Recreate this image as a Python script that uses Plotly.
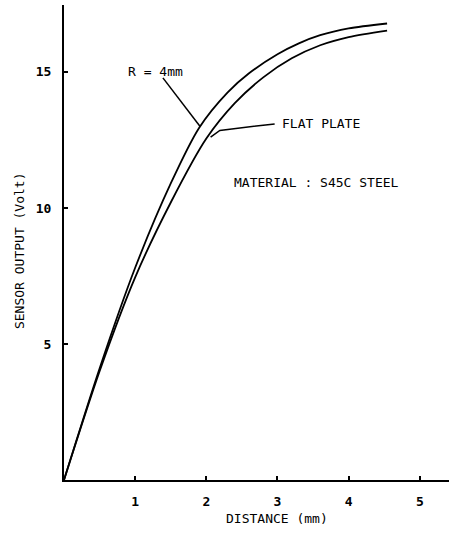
import plotly.graph_objects as go

# Sensor output versus distance for two target shapes (S45C steel)
distance_r4 = [0.0, 0.5, 1.0, 1.5, 1.9, 2.3, 2.6, 3.0, 3.3, 3.6, 4.0, 4.54]
output_r4 = [0.0, 4.1, 7.8, 10.9, 12.95, 14.25, 14.95, 15.65, 16.05, 16.35, 16.6, 16.78]

distance_flat = [0.0, 0.5, 1.0, 1.5, 2.0, 2.4, 2.8, 3.2, 3.6, 4.0, 4.54]
output_flat = [0.0, 4.0, 7.45, 10.2, 12.55, 13.85, 14.8, 15.5, 15.98, 16.28, 16.52]

x_ticks = [1, 2, 3, 4, 5]
y_ticks = [5, 10, 15]

FONT = "DejaVu Sans Mono"

fig = go.Figure()
for xs, ys in [(distance_r4, output_r4), (distance_flat, output_flat)]:
    fig.add_trace(go.Scatter(
        x=xs, y=ys, mode="lines",
        line=dict(color="black", width=1.8, shape="spline", smoothing=0.8),
        showlegend=False, hoverinfo="skip",
    ))

# curve labels with leader lines
fig.add_annotation(x=1.28, y=15.0, text="R = 4mm", showarrow=False,
                   font=dict(family=FONT, size=13, color="black"))
fig.add_shape(type="line", x0=1.39, y0=14.78, x1=1.91, y1=13.0,
              line=dict(color="black", width=1.5))

fig.add_annotation(x=3.03, y=13.09, text="FLAT PLATE", showarrow=False,
                   xanchor="left", font=dict(family=FONT, size=13, color="black"))
fig.add_shape(type="path", path="M 2.06 12.6 L 2.19 12.85 L 2.96 13.09",
              line=dict(color="black", width=1.5))

fig.add_annotation(x=2.36, y=10.92, text="MATERIAL : S45C STEEL", showarrow=False,
                   xanchor="left", font=dict(family=FONT, size=13, color="black"))

# axis titles
fig.add_annotation(xref="paper", x=-0.114, yref="y", y=8.42,
                   xanchor="center", yanchor="middle",
                   text="SENSOR OUTPUT (Volt)", textangle=-90, showarrow=False,
                   font=dict(family=FONT, size=13, color="black"))
fig.add_annotation(xref="x", x=3.0, yref="paper", y=-0.08,
                   xanchor="center", yanchor="middle",
                   text="DISTANCE (mm)", showarrow=False,
                   font=dict(family=FONT, size=13, color="black"))

fig.update_xaxes(
    range=[0, 5.41], tickvals=x_ticks, ticktext=[f"<b>{v}</b>" for v in x_ticks],
    ticks="inside", ticklen=4, tickwidth=1.5, tickcolor="black",
    showline=True, linecolor="black", linewidth=2, showgrid=False, zeroline=False,
    ticklabelstandoff=8,
    tickfont=dict(family=FONT, size=13, color="black"),
)
fig.update_yaxes(
    range=[0, 17.46], tickvals=y_ticks, ticktext=[f"<b>{v}</b>" for v in y_ticks],
    ticks="inside", ticklen=4, tickwidth=1.5, tickcolor="black",
    showline=True, linecolor="black", linewidth=2, showgrid=False, zeroline=False,
    ticklabelstandoff=8,
    tickfont=dict(family=FONT, size=13, color="black"),
)
fig.update_layout(
    width=449, height=540,
    margin=dict(l=64, r=0, t=5, b=60),
    plot_bgcolor="white", paper_bgcolor="white",
)
fig.write_html("out.html")
